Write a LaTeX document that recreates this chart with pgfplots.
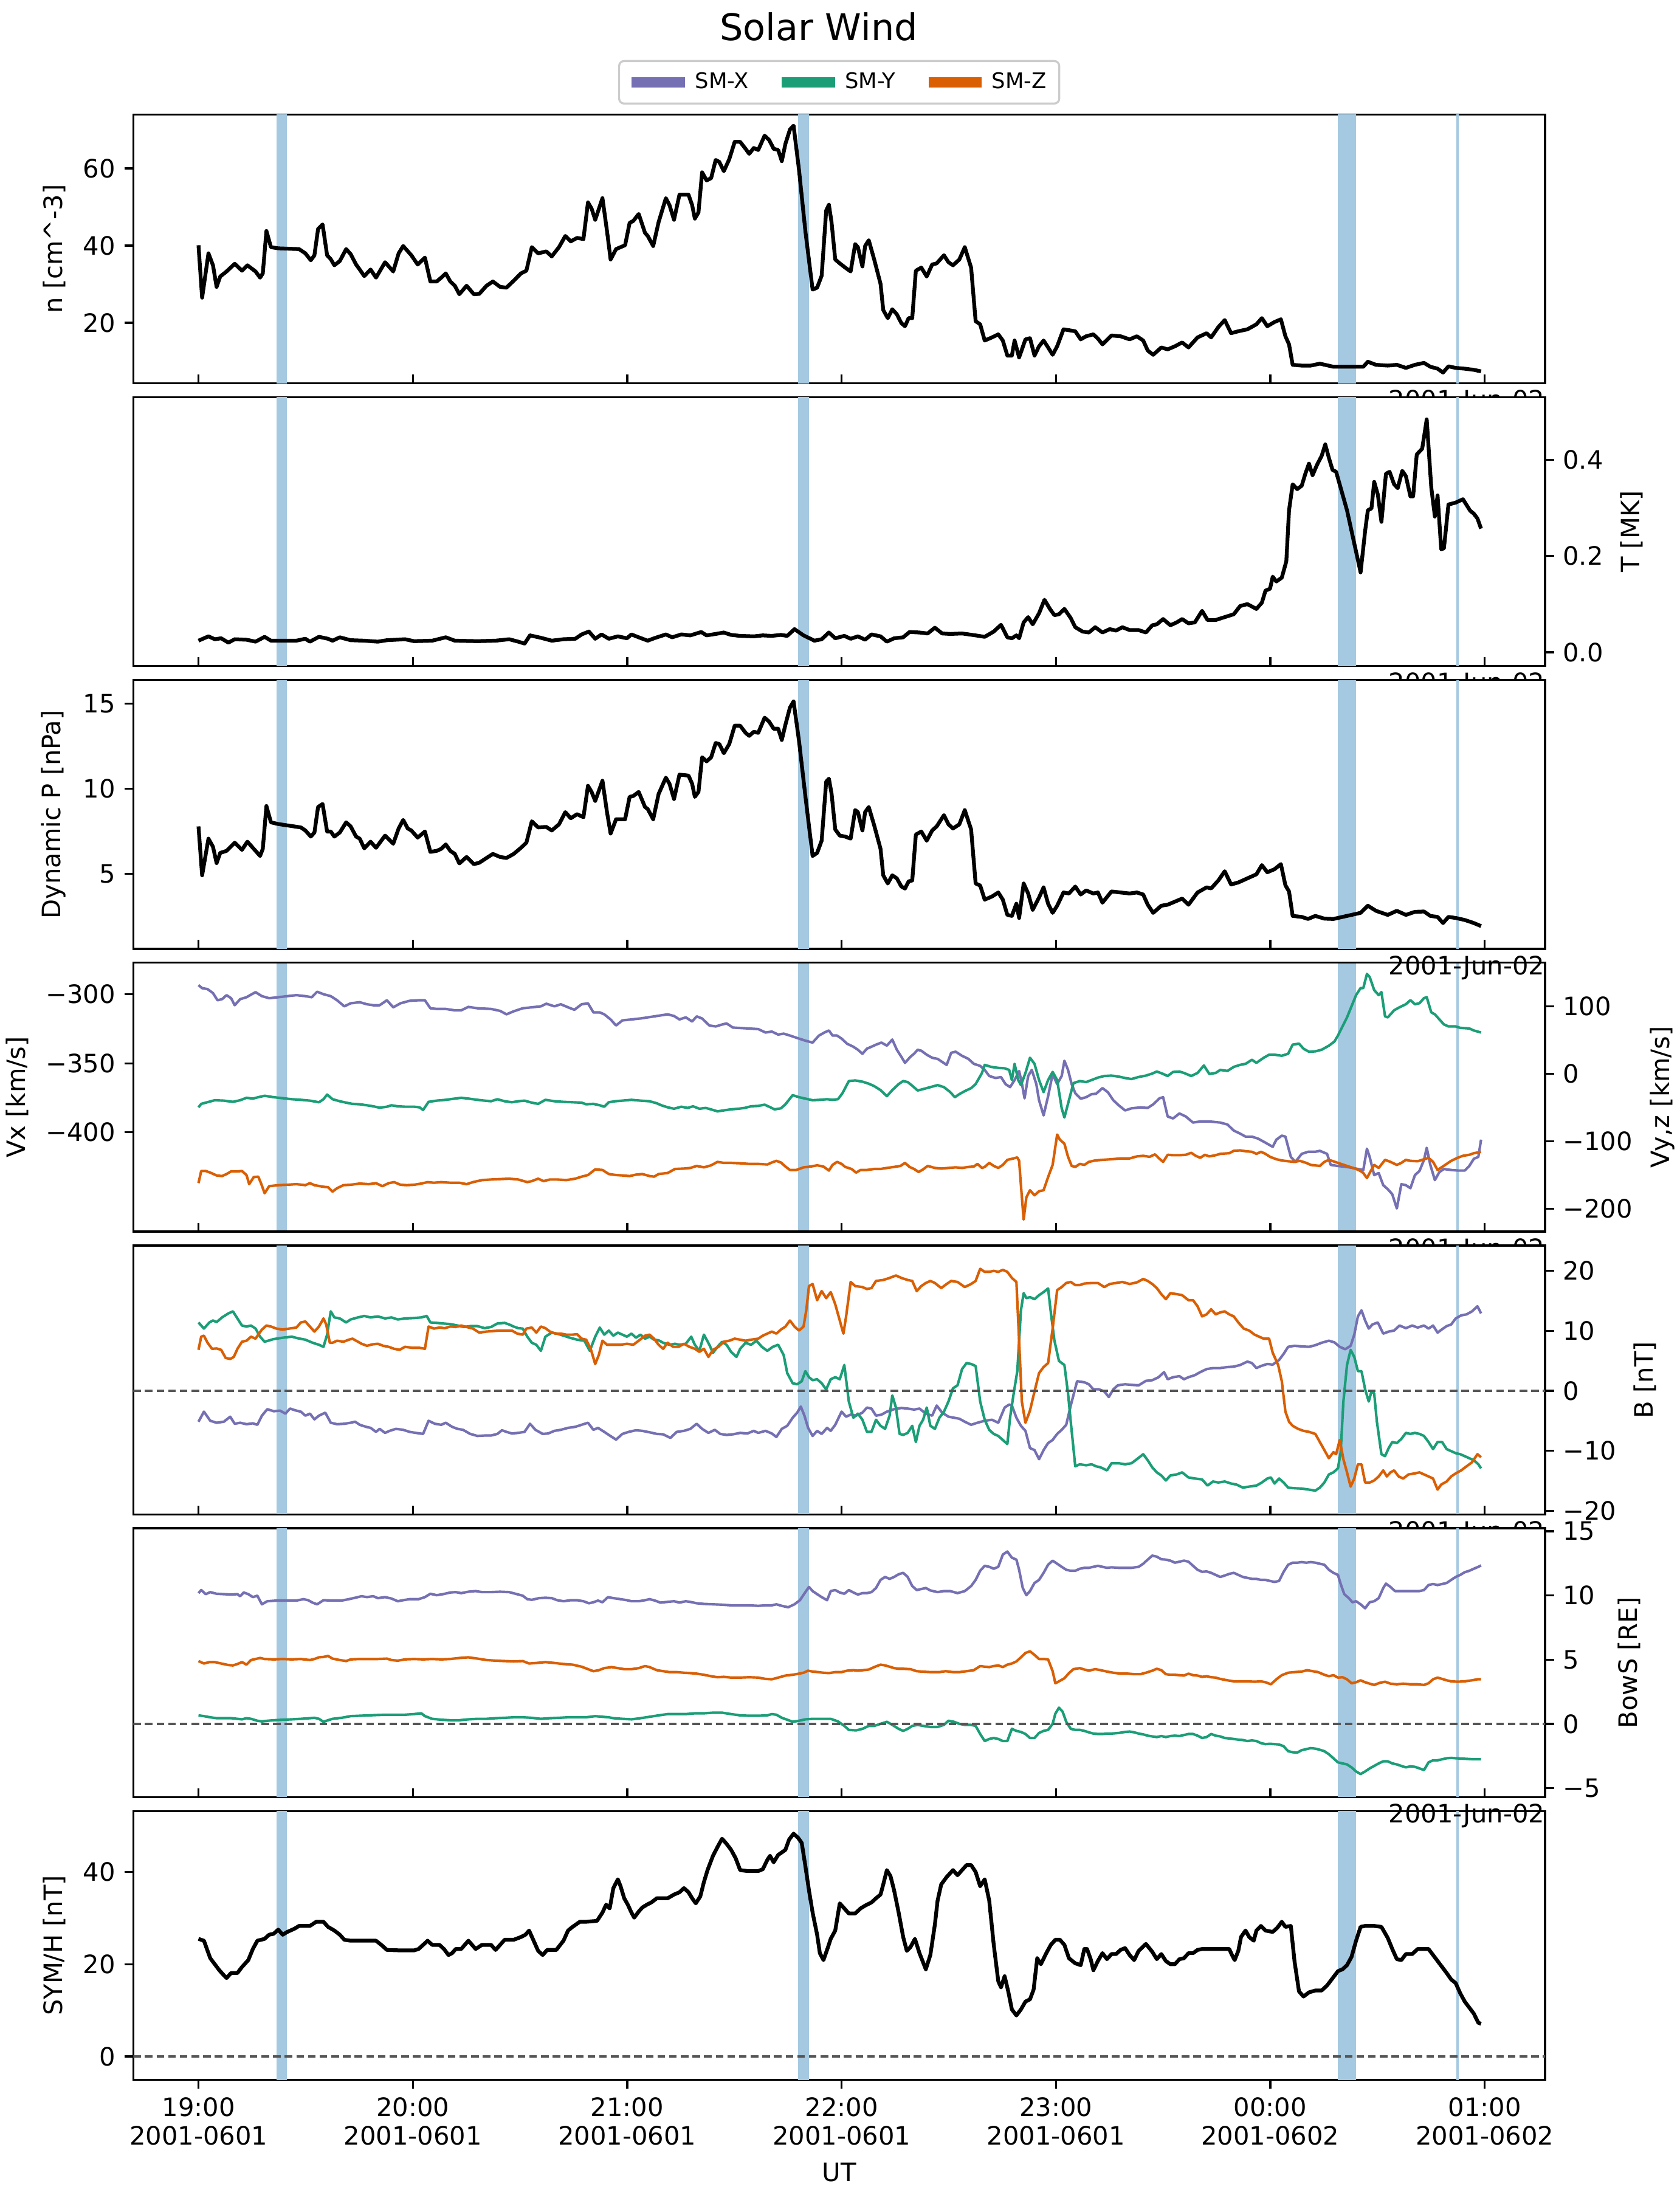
\documentclass[border=0pt]{standalone}
\usepackage{fontspec}
\setmainfont{DejaVu Sans}
\usepackage{pgfplots}
\pgfplotsset{compat=1.18}
\definecolor{smx}{RGB}{117,112,179}
\definecolor{smy}{RGB}{27,158,119}
\definecolor{smz}{RGB}{217,95,2}
\definecolor{bandc}{RGB}{165,201,225}
\definecolor{zeroc}{RGB}{85,85,85}
\definecolor{legc}{RGB}{204,204,204}
\newcommand{\bands}{%
  \fill[bandc] ({axis cs:21.8,0}|-{rel axis cs:0,0}) rectangle ({axis cs:24.8,0}|-{rel axis cs:0,1});
  \fill[bandc] ({axis cs:167.8,0}|-{rel axis cs:0,0}) rectangle ({axis cs:170.9,0}|-{rel axis cs:0,1});
  \fill[bandc] ({axis cs:318.9,0}|-{rel axis cs:0,0}) rectangle ({axis cs:324.0,0}|-{rel axis cs:0,1});
  \draw[bandc, line width=1.1pt] ({axis cs:352.4,0}|-{rel axis cs:0,0}) -- ({axis cs:352.4,0}|-{rel axis cs:0,1});
}
\newcommand{\zeroline}{%
  \draw[zeroc, line width=1pt, dash pattern=on 3pt off 1.6pt] ({rel axis cs:0,0}|-{axis cs:0,0}) -- ({rel axis cs:1,0}|-{axis cs:0,0});
}
\pgfplotsset{
  sw/.style={
    scale only axis, width=557.45pt, height=106.15pt, anchor=north west,
    xmin=-18.25, xmax=376.9,
    x filter/.expression={(x-72)*0.253521},
    xtick={0,60,120,180,240,300,360},
    xticklabels={},
    xtick pos=left, xtick align=inside,
    ytick align=outside,
    major tick length=3.5pt,
    tick style={black, line width=0.8pt},
    axis line style={line width=0.8pt},
    tick label style={font=\fontsize{10}{12}\selectfont},
    label style={font=\fontsize{10}{12}\selectfont},
    axis background/.style={fill=white},
    clip=true,
  },
  blk/.style={black, line width=1.5pt, line join=round},
  thn/.style={line width=1pt, line join=round},
}
\begin{document}
\begin{tikzpicture}
\useasboundingbox (0,0) rectangle (663.36pt,-865.44pt);
\node[font=\fontsize{14.5}{17}\selectfont, anchor=base] at (323.3pt,-16pt) {Solar Wind};

% ---------------- Panel 1: density
\begin{axis}[sw, at={(52.63pt,-45.19pt)},
  ymin=4.3, ymax=74, ytick={20,40,60}, yticklabels={20,40,60}, ytick pos=left,
  ylabel={n [cm\textasciicircum{}-3]},
  legend style={at={(0.5,1)}, anchor=south, yshift=3.9pt, legend columns=3,
    draw=legc, line width=0.8pt, rounded corners=2pt, font=\fontsize{8.5}{10.5}\selectfont,
    inner xsep=3pt, inner ysep=2.5pt,
    /tikz/every even column/.append style={column sep=9pt}},
  legend image code/.code={\draw[#1] (0pt,0pt) -- (21pt,0pt);},
]
\addlegendimage{smx, line width=4pt}\addlegendentry{SM-X}
\addlegendimage{smy, line width=4pt}\addlegendentry{SM-Y}
\addlegendimage{smz, line width=4pt}\addlegendentry{SM-Z}
\bands
\addplot[blk] coordinates {(72,40.1) (76,26.5) (83,38.0) (88,34.9) (92,29.3) (96,32.0) (103,33.3) (112,35.3) (120,33.5) (126,34.9) (135,33.3) (140,31.7) (143,32.8) (147,43.8) (152,39.6) (160,39.3) (183,39.1) (190,38.0) (196,36.2) (200,37.5) (204,44.3) (209,45.5) (214,37.5) (218,36.5) (222,34.9) (228,36.0) (235,39.1) (240,37.8) (246,35.1) (250,33.8) (255,32.1) (262,33.8) (268,31.7) (278,35.7) (287,33.3) (293,38.0) (298,39.9) (307,37.5) (314,35.1) (322,36.9) (328,30.7) (335,30.7) (340,31.7) (345,32.8) (350,30.7) (355,29.6) (360,27.4) (368,29.6) (376,27.4) (382,27.5) (390,29.6) (397,30.7) (405,29.3) (412,29.1) (420,30.9) (428,32.8) (434,33.5) (440,39.6) (447,38.0) (456,38.5) (462,37.2) (470,39.6) (477,42.5) (483,41.1) (490,42.0) (497,41.7) (502,51.2) (506,49.6) (510,46.7) (518,52.3) (523,43.8) (527,36.4) (533,39.1) (543,40.1) (548,45.9) (552,46.4) (558,48.2) (565,43.3) (568,42.5) (574,39.9) (580,46.1) (588,52.3) (592,50.5) (597,46.7) (603,53.2) (613,53.2) (617,50.5) (620,47.0) (624,48.6) (628,59.0) (633,56.9) (638,57.5) (643,62.2) (647,61.7) (652,59.3) (658,62.4) (664,66.9) (670,66.9) (676,65.1) (680,63.8) (685,65.3) (690,64.8) (697,68.5) (702,67.4) (707,65.1) (712,64.8) (716,61.9) (720,66.4) (725,70.1) (729,71.1) (735,59.6) (742,43.8) (750,28.6) (755,29.1) (760,32.2) (765,49.1) (768,50.6) (771,45.9) (775,36.4) (780,35.4) (786,34.3) (792,33.3) (797,40.4) (800,39.6) (805,34.6) (808,39.9) (812,41.4) (818,36.4) (825,30.1) (828,23.3) (833,21.2) (838,23.5) (843,22.2) (848,19.9) (852,19.1) (856,21.2) (860,21.2) (864,33.5) (870,34.3) (876,32.0) (882,35.1) (887,35.4) (895,37.5) (900,35.7) (905,34.9) (912,36.4) (918,39.6) (925,34.3) (930,20.4) (935,19.6) (940,15.4) (948,16.2) (955,17.0) (960,15.4) (965,11.5) (970,11.5) (973,15.4) (978,11.0) (985,15.7) (990,16.0) (995,11.5) (1000,13.9) (1005,15.4) (1010,13.6) (1015,11.7) (1020,13.9) (1027,18.3) (1040,17.8) (1046,15.7) (1052,16.5) (1060,17.0) (1065,15.9) (1070,14.4) (1080,16.7) (1090,16.5) (1100,15.7) (1108,16.5) (1115,15.4) (1120,12.8) (1126,11.7) (1135,13.6) (1142,13.1) (1150,13.9) (1158,14.9) (1165,13.6) (1175,16.2) (1185,17.3) (1190,16.2) (1198,18.9) (1205,20.7) (1212,17.3) (1220,17.8) (1230,18.3) (1240,19.6) (1246,21.2) (1252,19.1) (1260,20.2) (1267,20.9) (1272,16.5) (1276,14.4) (1280,9.1) (1290,8.9) (1300,8.9) (1310,9.4) (1325,8.6) (1358,8.6) (1363,9.9) (1372,9.1) (1385,8.9) (1395,9.1) (1405,8.3) (1415,9.1) (1425,9.6) (1432,8.6) (1440,8.1) (1446,7.1) (1452,8.7) (1460,8.3) (1470,8.1) (1480,7.8) (1488,7.4)};
\end{axis}
\node[anchor=base east, font=\fontsize{10}{12}\selectfont, inner sep=0pt] at (610.08pt,-161.44pt) {2001-Jun-02};

% ---------------- Panel 2: temperature
\begin{axis}[sw, at={(52.63pt,-156.83pt)},
  ymin=-0.0288, ymax=0.530, ytick={0,0.2,0.4}, yticklabels={0.0,0.2,0.4},
  ytick pos=right, yticklabel pos=right, ylabel near ticks, ylabel={T [MK]},
]
\bands
\addplot[blk] coordinates {(72,0.024) (83,0.033) (90,0.027) (97,0.029) (105,0.020) (112,0.027) (125,0.026) (135,0.022) (145,0.032) (152,0.024) (165,0.024) (180,0.024) (190,0.028) (195,0.022) (205,0.032) (215,0.028) (220,0.024) (228,0.031) (240,0.025) (255,0.024) (270,0.022) (280,0.025) (300,0.027) (310,0.023) (330,0.024) (345,0.031) (355,0.024) (380,0.023) (400,0.024) (415,0.027) (425,0.022) (432,0.018) (438,0.035) (450,0.030) (462,0.024) (475,0.027) (488,0.028) (495,0.037) (503,0.043) (510,0.028) (517,0.037) (525,0.028) (535,0.033) (545,0.029) (550,0.037) (558,0.031) (568,0.024) (575,0.029) (588,0.037) (595,0.031) (605,0.037) (615,0.035) (627,0.042) (633,0.035) (643,0.038) (652,0.041) (660,0.036) (670,0.034) (685,0.033) (695,0.035) (705,0.034) (715,0.036) (722,0.034) (730,0.048) (740,0.035) (752,0.024) (760,0.027) (768,0.041) (775,0.029) (785,0.034) (792,0.028) (800,0.033) (808,0.026) (815,0.037) (825,0.033) (832,0.022) (840,0.029) (850,0.031) (857,0.042) (868,0.041) (877,0.039) (885,0.051) (893,0.039) (902,0.038) (915,0.039) (930,0.035) (940,0.032) (950,0.043) (958,0.057) (965,0.031) (970,0.029) (975,0.035) (978,0.029) (983,0.062) (988,0.073) (993,0.058) (1000,0.081) (1006,0.109) (1012,0.090) (1017,0.077) (1022,0.079) (1028,0.090) (1035,0.071) (1040,0.052) (1048,0.043) (1055,0.041) (1062,0.052) (1070,0.041) (1078,0.048) (1085,0.045) (1092,0.052) (1100,0.046) (1110,0.046) (1118,0.041) (1125,0.056) (1130,0.058) (1137,0.069) (1145,0.056) (1152,0.062) (1158,0.069) (1165,0.060) (1172,0.062) (1180,0.086) (1186,0.067) (1195,0.067) (1205,0.073) (1215,0.079) (1222,0.096) (1230,0.100) (1240,0.090) (1246,0.103) (1250,0.128) (1255,0.132) (1258,0.157) (1262,0.147) (1268,0.155) (1273,0.189) (1276,0.295) (1280,0.349) (1285,0.339) (1290,0.346) (1294,0.371) (1298,0.392) (1302,0.368) (1307,0.390) (1312,0.408) (1316,0.432) (1320,0.404) (1324,0.379) (1328,0.375) (1340,0.295) (1355,0.166) (1360,0.252) (1363,0.295) (1367,0.299) (1370,0.354) (1374,0.328) (1378,0.271) (1383,0.371) (1387,0.375) (1392,0.349) (1396,0.341) (1401,0.377) (1405,0.366) (1410,0.324) (1413,0.324) (1417,0.411) (1423,0.423) (1428,0.484) (1433,0.343) (1437,0.282) (1440,0.326) (1444,0.214) (1447,0.216) (1452,0.307) (1460,0.311) (1468,0.318) (1476,0.294) (1480,0.288) (1484,0.278) (1488,0.257)};
\end{axis}
\node[anchor=base east, font=\fontsize{10}{12}\selectfont, inner sep=0pt] at (610.08pt,-273.08pt) {2001-Jun-02};

% ---------------- Panel 3: dynamic pressure
\begin{axis}[sw, at={(52.63pt,-268.47pt)},
  ymin=0.57, ymax=16.4, ytick={5,10,15}, yticklabels={5,10,15}, ytick pos=left,
  ylabel={Dynamic P [nPa]},
]
\bands
\addplot[blk] coordinates {(72,7.78) (76,4.90) (83,7.06) (88,6.58) (92,5.62) (96,6.22) (103,6.34) (112,6.82) (120,6.40) (126,6.88) (135,6.34) (140,6.04) (143,6.46) (147,8.98) (152,8.02) (160,7.92) (175,7.80) (185,7.72) (190,7.54) (196,7.18) (200,7.42) (204,8.92) (209,9.10) (214,7.48) (218,7.48) (222,7.18) (228,7.42) (235,8.02) (240,7.78) (246,7.18) (250,7.06) (255,6.49) (262,6.88) (268,6.52) (278,7.24) (287,6.76) (293,7.66) (298,8.16) (303,7.66) (307,7.54) (314,7.12) (322,7.48) (328,6.28) (335,6.34) (340,6.46) (345,6.72) (350,6.34) (355,6.16) (360,5.60) (368,5.98) (376,5.56) (382,5.64) (390,5.92) (397,6.16) (405,5.98) (412,5.92) (420,6.16) (428,6.52) (434,6.82) (440,8.08) (447,7.72) (456,7.75) (462,7.54) (470,7.90) (477,8.62) (483,8.26) (490,8.50) (497,8.32) (502,10.17) (506,9.81) (510,9.28) (518,10.47) (523,8.62) (527,7.36) (533,8.20) (543,8.20) (548,9.52) (552,9.57) (558,9.81) (565,8.92) (568,8.80) (574,8.20) (580,9.69) (588,10.65) (592,10.29) (597,9.39) (603,10.83) (613,10.77) (617,10.29) (620,9.52) (624,9.81) (628,11.85) (633,11.61) (638,11.85) (643,12.69) (647,12.63) (652,12.09) (658,12.63) (664,13.71) (670,13.71) (676,13.29) (680,13.11) (685,13.35) (690,13.29) (697,14.18) (702,13.95) (707,13.53) (712,13.53) (716,12.87) (720,13.77) (725,14.78) (729,15.14) (735,12.81) (742,9.57) (750,6.04) (755,6.22) (760,6.94) (765,10.41) (768,10.59) (771,9.69) (775,7.60) (780,7.24) (786,7.18) (792,7.06) (797,8.74) (800,8.62) (805,7.54) (808,8.62) (812,8.92) (818,7.84) (825,6.46) (828,4.90) (833,4.42) (838,4.90) (843,4.72) (848,4.24) (852,4.12) (856,4.54) (860,4.60) (864,7.30) (870,7.48) (876,6.94) (882,7.54) (887,7.78) (895,8.44) (900,7.90) (905,7.66) (912,7.90) (918,8.74) (925,7.60) (930,4.42) (935,4.30) (940,3.47) (948,3.65) (955,3.89) (960,3.47) (965,2.57) (970,2.51) (975,3.23) (978,2.39) (983,4.42) (988,3.83) (993,2.87) (1000,3.59) (1005,4.19) (1010,3.23) (1015,2.69) (1020,3.11) (1027,3.89) (1033,3.83) (1040,4.24) (1046,3.77) (1052,4.01) (1060,3.83) (1065,3.89) (1070,3.29) (1080,3.95) (1090,3.89) (1100,3.83) (1108,3.89) (1115,3.77) (1120,3.17) (1126,2.69) (1135,3.11) (1142,3.17) (1150,3.35) (1158,3.53) (1165,3.17) (1175,3.89) (1185,4.19) (1190,4.13) (1198,4.60) (1205,5.14) (1212,4.36) (1220,4.48) (1230,4.72) (1240,4.96) (1246,5.50) (1252,5.08) (1260,5.26) (1267,5.56) (1272,4.31) (1276,3.95) (1280,2.51) (1290,2.45) (1297,2.33) (1305,2.51) (1315,2.35) (1325,2.33) (1340,2.51) (1355,2.69) (1363,3.11) (1372,2.81) (1385,2.57) (1395,2.81) (1405,2.57) (1415,2.75) (1425,2.77) (1432,2.51) (1440,2.45) (1446,2.09) (1452,2.45) (1460,2.39) (1470,2.27) (1480,2.09) (1488,1.91)};
\end{axis}

% ---------------- Panel 4: velocity (Vx left)
\begin{axis}[sw, at={(52.63pt,-380.11pt)},
  ymin=-472.1, ymax=-277.1, ytick={-400,-350,-300}, yticklabels={−400,−350,−300}, ytick pos=left,
  ylabel={Vx [km/s]},
]
\bands
\addplot[thn, smx] coordinates {(72,-293.3) (76,-295.5) (82,-296.2) (88,-299.1) (93,-304.3) (98,-303.5) (103,-300.6) (108,-302.8) (112,-307.9) (118,-303.5) (125,-302.1) (135,-298.4) (142,-301.3) (150,-302.8) (160,-302.1) (170,-301.3) (180,-300.6) (190,-301.3) (197,-302.1) (203,-298.1) (210,-299.9) (218,-301.3) (225,-304.3) (233,-308.7) (240,-306.5) (250,-305.7) (258,-307.2) (265,-307.9) (272,-307.9) (280,-304.3) (287,-309.4) (295,-306.5) (305,-304.7) (315,-304.3) (322,-304.3) (328,-310.1) (335,-310.6) (345,-310.6) (355,-311.6) (362,-311.6) (370,-309.1) (380,-310.1) (395,-310.6) (405,-312.0) (412,-314.5) (420,-312.3) (430,-310.1) (440,-309.4) (450,-308.7) (456,-306.8) (465,-308.7) (472,-307.2) (480,-309.4) (487,-311.2) (495,-307.2) (502,-306.5) (508,-313.1) (515,-313.1) (520,-314.5) (527,-318.2) (533,-322.6) (540,-318.9) (550,-318.2) (560,-317.5) (568,-316.7) (575,-316.0) (582,-315.3) (590,-314.5) (597,-315.7) (603,-318.2) (610,-316.7) (617,-319.7) (622,-316.0) (628,-317.5) (636,-322.6) (643,-323.3) (650,-321.9) (655,-321.1) (662,-324.1) (670,-324.4) (680,-324.8) (690,-325.2) (698,-327.7) (705,-327.0) (712,-329.2) (718,-328.5) (725,-329.9) (735,-332.1) (742,-333.6) (750,-335.0) (757,-329.9) (763,-327.7) (768,-326.2) (772,-329.9) (777,-329.9) (782,-332.1) (788,-335.8) (795,-338.0) (800,-340.2) (805,-343.1) (810,-339.4) (815,-338.0) (820,-336.5) (826,-335.0) (832,-337.2) (838,-332.8) (843,-340.2) (848,-345.3) (852,-349.7) (858,-345.3) (862,-343.1) (866,-340.2) (870,-340.9) (876,-343.8) (882,-346.0) (888,-346.8) (893,-349.0) (898,-351.2) (903,-342.4) (908,-341.6) (915,-344.6) (922,-346.8) (928,-350.4) (935,-351.9) (940,-354.8) (945,-359.2) (952,-360.7) (958,-360.0) (963,-365.1) (968,-367.3) (973,-362.2) (978,-355.6) (981,-364.4) (984,-375.4) (988,-359.2) (992,-354.8) (997,-365.1) (1000,-376.8) (1005,-387.8) (1010,-373.9) (1015,-357.8) (1020,-365.1) (1025,-359.2) (1028,-348.2) (1032,-354.8) (1036,-365.1) (1040,-371.7) (1046,-375.7) (1052,-374.6) (1058,-372.4) (1063,-372.1) (1070,-368.0) (1076,-371.0) (1082,-376.8) (1088,-380.5) (1095,-384.2) (1102,-382.7) (1112,-382.0) (1120,-382.4) (1126,-379.8) (1133,-375.4) (1137,-374.6) (1142,-388.6) (1148,-390.0) (1155,-386.4) (1162,-388.6) (1170,-393.0) (1178,-392.2) (1188,-392.2) (1200,-393.0) (1208,-394.4) (1215,-398.8) (1222,-401.0) (1228,-403.2) (1235,-403.2) (1242,-404.7) (1250,-407.6) (1258,-410.6) (1262,-405.4) (1268,-402.5) (1272,-403.2) (1275,-410.6) (1278,-417.9) (1283,-421.5) (1290,-415.7) (1297,-414.2) (1305,-414.2) (1310,-413.5) (1318,-415.7) (1322,-423.7) (1330,-424.5) (1340,-425.2) (1350,-426.4) (1358,-427.4) (1362,-412.0) (1365,-417.9) (1370,-431.1) (1375,-429.6) (1380,-438.4) (1385,-441.3) (1390,-445.0) (1395,-455.3) (1400,-437.7) (1405,-438.4) (1410,-440.6) (1415,-431.1) (1420,-428.1) (1425,-420.1) (1428,-411.3) (1432,-423.7) (1437,-434.7) (1442,-428.9) (1447,-426.7) (1455,-427.4) (1463,-427.8) (1470,-427.8) (1475,-424.5) (1480,-419.3) (1485,-417.9) (1488,-405.4)};
\end{axis}
% ---------------- Panel 4: velocity (Vy, Vz right)
\begin{axis}[sw, at={(52.63pt,-380.11pt)}, axis background/.style={},
  ymin=-233.8, ymax=164.4, ytick={-200,-100,0,100}, yticklabels={−200,−100,0,100},
  ytick pos=right, yticklabel pos=right, ylabel near ticks, ylabel={Vy,z [km/s]},
]
\addplot[thn, smy] coordinates {(72,-49.7) (75,-44.6) (80,-42.8) (90,-39.2) (100,-39.8) (110,-41.6) (118,-39.2) (125,-35.6) (132,-36.8) (138,-34.7) (145,-32.6) (155,-34.7) (165,-36.2) (175,-37.7) (185,-38.6) (195,-39.8) (205,-42.2) (210,-37.7) (214,-30.8) (220,-37.7) (228,-40.7) (235,-42.8) (242,-44.6) (250,-45.2) (258,-46.7) (265,-48.2) (272,-50.3) (280,-48.8) (285,-46.7) (292,-48.2) (300,-48.8) (310,-48.8) (316,-49.7) (320,-53.6) (326,-41.6) (335,-39.8) (345,-38.6) (355,-36.8) (362,-35.6) (370,-36.8) (380,-38.6) (388,-39.8) (395,-40.7) (402,-37.7) (410,-40.7) (418,-42.2) (425,-40.7) (432,-39.8) (440,-42.8) (447,-44.6) (455,-38.6) (465,-40.7) (475,-41.6) (485,-42.2) (495,-42.8) (500,-45.2) (508,-44.6) (515,-46.7) (520,-48.8) (525,-42.2) (532,-40.7) (540,-39.8) (550,-38.6) (560,-39.8) (570,-40.7) (578,-43.7) (583,-46.7) (590,-49.7) (597,-51.8) (605,-48.8) (612,-50.6) (618,-48.2) (625,-51.8) (632,-50.6) (640,-53.6) (645,-55.7) (652,-54.2) (660,-52.7) (668,-51.8) (675,-50.6) (682,-48.2) (690,-47.6) (697,-45.8) (702,-48.8) (708,-52.7) (715,-51.2) (720,-45.2) (728,-31.7) (735,-34.7) (742,-36.8) (750,-39.2) (758,-38.6) (766,-37.7) (772,-38.6) (778,-37.7) (783,-28.7) (790,-10.8) (797,-9.9) (805,-11.7) (812,-14.7) (818,-18.3) (825,-24.2) (832,-33.2) (838,-24.2) (845,-15.3) (850,-10.8) (855,-12.3) (860,-17.7) (866,-24.8) (872,-22.7) (880,-19.8) (888,-16.8) (895,-19.8) (902,-27.2) (907,-34.7) (912,-30.2) (918,-25.7) (925,-21.3) (930,-15.3) (937,1.2) (940,13.2) (947,10.2) (955,8.7) (962,8.1) (967,5.7) (970,-9.3) (973,14.7) (977,-9.3) (980,-16.8) (985,1.2) (990,23.7) (995,14.7) (1000,-9.3) (1005,-27.2) (1010,-9.3) (1015,2.7) (1020,-9.3) (1025,-51.2) (1028,-64.7) (1033,-39.2) (1038,-13.8) (1045,-10.8) (1052,-12.3) (1058,-9.3) (1065,-5.7) (1072,-3.3) (1080,-2.7) (1088,-4.2) (1095,-6.3) (1102,-7.8) (1110,-4.8) (1118,-2.7) (1125,0.3) (1130,3.3) (1136,0.3) (1142,-3.3) (1148,2.7) (1155,3.3) (1160,1.2) (1168,-3.3) (1175,1.2) (1182,12.3) (1188,-0.3) (1195,1.2) (1200,5.7) (1208,4.2) (1215,10.2) (1222,13.2) (1228,14.7) (1235,20.7) (1240,16.2) (1248,23.7) (1254,28.2) (1260,28.2) (1268,26.7) (1275,29.6) (1280,43.1) (1287,44.6) (1292,37.1) (1298,32.6) (1305,33.2) (1312,35.6) (1320,41.6) (1326,47.6) (1330,56.6) (1340,83.5) (1350,116.5) (1355,126.9) (1358,126.9) (1362,147.9) (1365,143.4) (1370,124.0) (1375,116.5) (1378,121.0) (1382,85.0) (1385,83.5) (1392,94.0) (1398,98.5) (1405,103.0) (1410,109.0) (1415,103.0) (1420,104.5) (1425,112.0) (1428,113.5) (1433,91.0) (1437,88.0) (1442,80.5) (1447,73.1) (1452,70.1) (1460,70.1) (1465,68.0) (1475,67.1) (1480,64.1) (1488,61.1)};
\addplot[thn, smz] coordinates {(72,-162.0) (75,-144.0) (80,-144.0) (85,-146.4) (92,-150.6) (98,-151.5) (103,-148.5) (108,-144.6) (115,-144.6) (120,-144.0) (125,-150.0) (128,-163.5) (133,-153.0) (138,-152.4) (141,-162.0) (145,-176.9) (150,-166.5) (160,-165.0) (170,-164.4) (180,-163.5) (190,-165.0) (195,-162.0) (200,-165.0) (210,-167.4) (215,-168.0) (220,-174.5) (225,-169.5) (232,-165.0) (240,-164.4) (250,-162.6) (260,-163.5) (268,-162.0) (275,-166.5) (282,-162.0) (288,-160.5) (295,-164.4) (302,-165.0) (310,-164.4) (318,-162.6) (325,-160.5) (332,-161.4) (340,-160.5) (350,-161.4) (360,-161.4) (368,-163.5) (375,-160.5) (385,-157.5) (395,-156.6) (405,-156.0) (415,-155.4) (425,-156.6) (435,-160.5) (440,-159.0) (447,-155.4) (453,-159.0) (460,-156.6) (468,-156.6) (478,-157.5) (488,-155.4) (495,-152.4) (502,-150.0) (510,-141.6) (518,-142.5) (525,-148.5) (533,-150.0) (540,-150.6) (548,-151.5) (555,-149.4) (562,-148.5) (570,-151.5) (575,-152.4) (580,-148.5) (590,-147.0) (598,-141.0) (608,-140.4) (615,-139.5) (622,-136.5) (630,-138.6) (638,-135.6) (645,-130.5) (652,-132.0) (660,-132.0) (670,-132.6) (680,-133.5) (690,-133.5) (700,-134.4) (705,-131.4) (710,-129.0) (715,-131.4) (720,-137.4) (725,-142.5) (732,-142.5) (740,-138.6) (748,-137.4) (755,-135.6) (762,-137.4) (768,-143.4) (772,-135.0) (777,-130.5) (782,-133.5) (786,-138.0) (793,-141.0) (798,-146.4) (803,-142.5) (810,-142.5) (818,-141.0) (825,-141.0) (832,-139.5) (840,-138.0) (847,-136.5) (852,-132.0) (857,-138.0) (862,-141.0) (867,-145.5) (872,-141.6) (877,-136.5) (885,-139.5) (892,-140.4) (900,-139.5) (908,-138.6) (915,-139.5) (922,-138.0) (928,-137.4) (932,-133.5) (937,-139.5) (940,-138.0) (945,-132.0) (950,-136.5) (955,-139.5) (960,-135.0) (965,-127.5) (970,-126.0) (976,-123.9) (978,-129.0) (980,-165.0) (983,-215.9) (986,-183.0) (990,-172.5) (995,-180.0) (1000,-174.0) (1005,-172.5) (1010,-153.0) (1015,-135.0) (1020,-90.1) (1023,-97.6) (1028,-103.6) (1032,-123.0) (1036,-136.5) (1040,-138.0) (1045,-133.5) (1050,-135.0) (1055,-130.5) (1062,-128.4) (1070,-127.5) (1080,-126.6) (1090,-125.4) (1100,-125.4) (1108,-122.4) (1115,-121.5) (1122,-123.0) (1128,-119.4) (1133,-126.0) (1137,-130.5) (1142,-120.0) (1148,-120.6) (1155,-120.6) (1162,-120.0) (1168,-117.1) (1173,-121.5) (1178,-124.5) (1183,-120.0) (1188,-122.4) (1195,-120.6) (1200,-118.6) (1210,-117.7) (1215,-114.1) (1222,-113.5) (1228,-114.7) (1235,-115.6) (1240,-118.6) (1245,-115.6) (1250,-118.6) (1255,-123.0) (1262,-126.6) (1268,-128.4) (1275,-129.6) (1282,-130.5) (1288,-129.0) (1295,-132.0) (1300,-135.0) (1310,-136.5) (1315,-130.5) (1320,-127.5) (1330,-132.0) (1340,-136.5) (1350,-141.0) (1355,-144.0) (1358,-147.0) (1362,-154.5) (1365,-147.0) (1370,-135.0) (1375,-139.5) (1382,-127.5) (1388,-130.5) (1395,-135.0) (1400,-132.0) (1405,-127.5) (1410,-129.0) (1418,-129.6) (1425,-126.6) (1430,-124.5) (1435,-130.5) (1440,-142.5) (1445,-138.0) (1450,-133.5) (1455,-129.0) (1462,-124.5) (1468,-121.5) (1475,-120.0) (1480,-117.7) (1488,-115.6)};
\end{axis}
\node[anchor=base east, font=\fontsize{10}{12}\selectfont, inner sep=0pt] at (610.08pt,-384.72pt) {2001-Jun-02};
\node[anchor=base east, font=\fontsize{10}{12}\selectfont, inner sep=0pt] at (610.08pt,-496.36pt) {2001-Jun-02};

% ---------------- Panel 5: magnetic field
\begin{axis}[sw, at={(52.63pt,-491.75pt)},
  ymin=-20.6, ymax=24.2, ytick={-20,-10,0,10,20}, yticklabels={−20,−10,0,10,20},
  ytick pos=right, yticklabel pos=right, ylabel near ticks, ylabel={B [nT]},
]
\bands
\addplot[thn, smx] coordinates {(72,-5.16) (78,-3.48) (85,-5.00) (92,-5.33) (100,-5.16) (107,-4.32) (112,-5.50) (118,-5.33) (125,-5.57) (132,-5.43) (137,-5.67) (142,-4.15) (148,-3.07) (155,-3.41) (162,-3.31) (168,-3.81) (173,-2.97) (180,-3.31) (185,-3.48) (190,-4.15) (195,-3.81) (200,-4.76) (205,-4.15) (212,-3.65) (218,-5.33) (225,-5.57) (233,-5.50) (240,-5.33) (245,-5.16) (250,-5.67) (257,-6.01) (262,-6.18) (268,-6.85) (272,-6.35) (278,-7.02) (283,-6.68) (290,-6.35) (298,-6.51) (305,-6.85) (312,-7.02) (320,-7.19) (326,-5.00) (333,-5.50) (340,-5.67) (345,-5.33) (352,-6.01) (358,-6.35) (364,-6.51) (372,-7.19) (380,-7.53) (388,-7.46) (395,-7.46) (402,-7.19) (407,-6.58) (412,-6.85) (418,-7.12) (425,-7.02) (432,-6.85) (438,-5.50) (444,-6.51) (452,-7.19) (458,-7.12) (465,-6.68) (472,-6.51) (480,-6.18) (488,-6.01) (495,-5.67) (502,-5.33) (508,-6.51) (513,-6.18) (520,-6.85) (525,-7.36) (533,-8.14) (540,-7.19) (547,-6.85) (555,-6.58) (562,-6.68) (570,-6.92) (578,-7.19) (585,-7.26) (593,-7.86) (600,-6.85) (608,-6.68) (615,-6.35) (622,-5.50) (628,-6.35) (635,-7.02) (642,-6.51) (648,-7.19) (655,-7.36) (662,-7.26) (670,-7.02) (678,-7.12) (685,-6.68) (690,-7.02) (698,-6.68) (705,-7.12) (710,-7.70) (716,-6.35) (722,-5.84) (728,-4.49) (733,-3.65) (737,-2.63) (741,-4.15) (745,-6.18) (750,-7.53) (755,-6.68) (760,-7.19) (766,-6.18) (770,-6.68) (775,-5.67) (782,-3.48) (787,-4.32) (792,-3.98) (798,-4.15) (805,-3.65) (810,-2.80) (815,-2.97) (820,-4.15) (826,-3.98) (832,-3.48) (840,-3.07) (848,-2.87) (855,-2.97) (862,-3.14) (868,-2.97) (875,-3.81) (882,-4.15) (887,-2.46) (893,-3.65) (900,-4.32) (906,-4.49) (912,-4.66) (918,-5.16) (925,-5.67) (932,-5.33) (940,-5.00) (948,-4.83) (955,-5.33) (962,-2.80) (967,-2.30) (970,-2.46) (975,-4.49) (980,-5.84) (985,-6.68) (990,-9.55) (995,-9.89) (1000,-11.41) (1005,-9.89) (1010,-8.71) (1015,-8.20) (1020,-7.19) (1025,-6.51) (1030,-5.67) (1035,-2.46) (1042,1.59) (1050,1.42) (1055,1.08) (1060,0.24) (1066,0.24) (1072,-0.10) (1077,-1.05) (1082,0.24) (1087,0.91) (1095,1.08) (1102,0.98) (1110,0.91) (1118,1.65) (1125,1.76) (1132,2.26) (1138,3.11) (1142,1.92) (1148,2.26) (1155,2.43) (1160,1.92) (1165,2.26) (1172,2.60) (1178,3.11) (1185,3.61) (1192,3.78) (1200,3.78) (1208,3.95) (1215,4.02) (1222,4.29) (1230,4.86) (1235,4.62) (1240,3.78) (1245,4.12) (1252,4.46) (1258,4.35) (1265,5.13) (1270,6.14) (1275,7.32) (1282,7.49) (1290,7.39) (1298,7.32) (1305,7.59) (1312,8.00) (1320,8.34) (1326,8.07) (1332,7.32) (1338,6.92) (1344,7.49) (1348,9.35) (1352,12.39) (1356,13.40) (1360,11.71) (1364,10.36) (1368,11.04) (1374,11.38) (1380,9.52) (1386,9.86) (1392,10.03) (1398,10.87) (1405,10.43) (1412,10.87) (1418,10.53) (1425,10.87) (1430,10.36) (1435,10.87) (1440,9.69) (1446,10.36) (1450,10.77) (1455,11.04) (1460,12.05) (1466,12.56) (1472,12.73) (1478,13.23) (1484,14.08) (1488,12.89)};
\addplot[thn, smy] coordinates {(72,11.38) (78,10.36) (84,11.38) (88,11.71) (92,11.44) (98,12.22) (105,12.89) (110,13.23) (115,12.05) (120,10.87) (125,10.70) (130,10.87) (135,10.36) (140,9.01) (145,8.17) (155,8.61) (165,8.84) (175,9.01) (182,8.74) (190,8.51) (198,8.00) (205,7.66) (210,7.32) (214,9.35) (218,13.23) (222,12.22) (228,12.05) (235,11.38) (240,11.88) (248,12.22) (255,12.46) (262,12.22) (270,12.39) (278,12.05) (285,12.22) (292,11.88) (300,12.05) (310,12.12) (318,12.22) (324,12.46) (328,11.38) (335,11.31) (342,11.21) (350,11.11) (358,10.87) (365,10.63) (372,10.77) (380,10.77) (388,10.43) (395,10.63) (402,11.21) (410,11.31) (415,11.04) (420,10.70) (425,10.43) (430,10.36) (435,9.01) (440,8.00) (445,7.66) (450,6.65) (455,9.01) (462,9.69) (468,9.52) (475,9.18) (482,8.84) (490,8.51) (498,8.34) (504,6.65) (510,9.01) (515,10.53) (520,9.35) (525,10.03) (530,9.18) (535,9.69) (540,9.35) (545,9.01) (550,9.52) (555,8.84) (560,9.35) (565,8.68) (570,9.01) (575,8.51) (580,8.41) (585,8.00) (592,7.66) (598,7.83) (603,7.66) (610,7.83) (616,9.01) (620,7.66) (625,6.65) (630,9.35) (636,7.66) (640,6.31) (645,7.32) (650,8.17) (655,7.66) (660,6.48) (666,5.64) (670,6.99) (676,8.00) (682,7.66) (688,8.34) (694,7.32) (700,6.65) (706,7.32) (712,7.66) (718,5.97) (722,2.94) (728,1.25) (733,1.08) (738,1.59) (742,3.27) (746,2.26) (750,1.76) (755,1.92) (760,1.25) (765,0.24) (770,1.92) (775,2.26) (780,1.92) (785,4.29) (790,-1.79) (795,-4.49) (800,-3.81) (805,-4.83) (810,-6.85) (815,-6.85) (820,-4.83) (825,-5.84) (830,-6.35) (835,-4.15) (838,-0.78) (842,-2.80) (846,-7.19) (850,-7.36) (855,-7.02) (860,-5.84) (864,-8.54) (868,-5.84) (872,-4.83) (876,-2.80) (880,-5.84) (885,-6.35) (890,-4.49) (895,-3.48) (900,-1.79) (905,0.41) (910,0.91) (915,3.61) (920,4.62) (925,4.46) (930,4.12) (935,-1.79) (940,-4.83) (945,-6.51) (950,-7.19) (955,-7.53) (960,-8.20) (965,-8.88) (968,-4.49) (972,-0.44) (976,3.27) (980,13.40) (983,16.27) (986,15.43) (990,15.60) (995,15.26) (1000,15.93) (1005,16.44) (1010,17.05) (1013,13.06) (1017,8.34) (1022,4.96) (1028,4.29) (1032,-0.44) (1035,-5.16) (1040,-12.59) (1045,-12.25) (1052,-12.42) (1058,-12.25) (1063,-12.59) (1068,-12.76) (1075,-13.27) (1080,-12.08) (1088,-12.08) (1095,-12.25) (1102,-12.08) (1108,-11.41) (1115,-10.57) (1120,-11.58) (1125,-12.76) (1130,-13.60) (1135,-14.11) (1140,-14.95) (1145,-14.11) (1152,-13.94) (1158,-13.60) (1165,-14.45) (1172,-14.62) (1180,-14.78) (1186,-15.80) (1192,-15.12) (1198,-15.29) (1205,-15.12) (1212,-15.46) (1218,-15.63) (1225,-16.14) (1232,-15.97) (1240,-15.80) (1246,-15.29) (1252,-14.62) (1256,-14.45) (1260,-15.46) (1265,-14.62) (1270,-15.29) (1275,-16.14) (1282,-16.24) (1290,-16.30) (1298,-16.47) (1305,-16.64) (1310,-16.14) (1315,-15.29) (1320,-13.94) (1325,-13.60) (1330,-12.93) (1333,-10.23) (1336,-1.79) (1340,4.29) (1344,6.82) (1348,5.64) (1352,3.27) (1356,3.27) (1360,0.24) (1364,-1.79) (1367,-0.10) (1370,-0.44) (1373,-5.16) (1378,-10.57) (1382,-10.90) (1386,-9.55) (1390,-8.54) (1395,-8.71) (1400,-8.03) (1405,-7.02) (1410,-7.19) (1415,-7.02) (1420,-7.19) (1425,-7.53) (1430,-8.54) (1435,-9.72) (1440,-8.54) (1445,-8.54) (1450,-9.72) (1455,-10.06) (1460,-10.40) (1465,-10.57) (1470,-10.90) (1475,-11.24) (1480,-11.58) (1485,-12.25) (1488,-12.93)};
\addplot[thn, smz] coordinates {(72,6.82) (75,9.01) (78,9.18) (82,8.00) (87,6.99) (92,7.05) (97,6.82) (102,5.47) (107,5.30) (111,5.64) (115,6.99) (120,8.17) (125,8.34) (130,9.01) (135,8.68) (138,9.35) (142,10.19) (147,10.87) (152,10.70) (158,10.36) (165,10.19) (172,10.36) (180,10.53) (185,11.38) (190,11.54) (195,10.70) (200,9.86) (205,10.70) (210,12.05) (213,11.04) (217,8.00) (220,8.00) (225,8.34) (232,8.17) (238,8.51) (242,8.68) (246,8.34) (252,7.83) (258,7.49) (264,7.73) (270,7.83) (276,7.49) (282,7.32) (288,6.99) (294,6.82) (300,7.32) (308,7.16) (316,7.16) (322,6.99) (326,10.70) (332,10.36) (338,10.53) (344,10.43) (350,10.70) (356,10.63) (362,10.87) (368,10.63) (375,10.36) (382,9.69) (390,9.86) (398,9.96) (405,10.03) (412,10.03) (418,10.03) (424,9.52) (430,9.35) (434,10.36) (440,10.53) (445,9.69) (450,10.70) (455,10.43) (460,9.86) (466,9.52) (472,9.52) (478,9.35) (485,9.35) (490,9.42) (495,8.68) (500,8.51) (505,6.99) (510,4.46) (514,5.97) (518,8.34) (523,7.66) (530,7.66) (538,7.66) (545,7.83) (552,7.66) (558,8.34) (565,9.18) (570,9.35) (575,8.68) (580,7.66) (585,6.99) (590,8.00) (596,7.32) (602,7.32) (608,7.83) (614,7.32) (620,6.99) (625,6.48) (630,6.99) (635,5.64) (640,6.82) (646,7.32) (652,8.17) (658,8.34) (664,8.68) (670,8.51) (676,8.34) (682,8.51) (690,8.68) (695,9.18) (700,9.52) (705,9.86) (710,9.52) (715,10.19) (720,10.70) (725,11.71) (730,10.70) (735,10.03) (740,10.70) (743,13.40) (746,17.45) (750,17.79) (755,15.09) (760,16.61) (765,15.43) (770,16.44) (775,14.41) (780,11.71) (784,9.52) (787,12.39) (792,18.13) (797,17.45) (805,17.28) (810,16.95) (815,17.11) (820,18.30) (828,18.46) (835,18.80) (842,19.21) (848,18.80) (855,18.46) (860,18.30) (865,16.61) (870,17.45) (875,17.96) (880,18.30) (885,17.96) (892,17.11) (898,17.79) (903,18.30) (910,18.13) (918,17.28) (925,17.79) (930,18.30) (935,20.32) (940,19.81) (945,19.81) (950,19.98) (955,19.81) (960,20.15) (965,19.81) (970,18.80) (975,18.13) (978,8.34) (981,-1.79) (985,-5.33) (990,-3.31) (995,-0.10) (1000,2.94) (1005,3.95) (1010,4.62) (1015,10.36) (1020,16.78) (1025,17.28) (1030,17.96) (1035,18.13) (1040,17.62) (1045,17.62) (1050,17.86) (1058,17.96) (1065,17.96) (1072,17.28) (1078,17.79) (1085,17.96) (1092,18.13) (1100,17.79) (1108,18.06) (1115,18.63) (1120,18.30) (1125,17.79) (1130,17.11) (1135,16.10) (1140,15.26) (1145,16.27) (1152,16.10) (1158,15.93) (1165,15.09) (1170,15.09) (1175,14.08) (1180,12.39) (1185,12.73) (1190,13.57) (1195,12.73) (1200,13.06) (1205,13.23) (1210,12.73) (1215,12.39) (1220,11.38) (1226,10.36) (1232,10.03) (1238,9.35) (1243,9.01) (1248,8.68) (1254,8.68) (1258,6.31) (1264,4.29) (1268,1.59) (1272,-3.48) (1276,-5.16) (1280,-5.84) (1286,-6.35) (1292,-6.68) (1298,-6.85) (1305,-7.19) (1310,-8.54) (1315,-9.89) (1320,-11.24) (1325,-10.23) (1328,-10.57) (1332,-8.20) (1336,-11.41) (1340,-13.60) (1344,-15.97) (1348,-14.62) (1352,-12.25) (1356,-12.25) (1360,-15.29) (1365,-15.29) (1370,-14.95) (1375,-14.28) (1380,-13.27) (1384,-14.28) (1388,-13.60) (1392,-13.27) (1397,-14.28) (1402,-14.62) (1408,-13.94) (1415,-13.77) (1420,-13.60) (1425,-13.94) (1430,-14.28) (1435,-14.62) (1440,-16.47) (1444,-15.63) (1450,-15.12) (1455,-14.28) (1460,-13.77) (1466,-13.27) (1472,-12.59) (1478,-11.92) (1484,-10.57) (1488,-11.07)};
\zeroline
\end{axis}
\node[anchor=base east, font=\fontsize{10}{12}\selectfont, inner sep=0pt] at (610.08pt,-608.0pt) {2001-Jun-02};

% ---------------- Panel 6: bow shock
\begin{axis}[sw, at={(52.63pt,-603.39pt)},
  ymin=-5.71, ymax=15.23, ytick={-5,0,5,10,15}, yticklabels={−5,0,5,10,15},
  ytick pos=right, yticklabel pos=right, ylabel near ticks, ylabel={BowS [RE]},
]
\bands
\addplot[thn, smx] coordinates {(72,10.18) (75,10.42) (80,10.10) (85,10.26) (92,10.13) (100,10.10) (108,10.07) (115,10.10) (118,9.94) (122,10.23) (127,10.10) (132,9.87) (137,9.98) (142,9.31) (148,9.55) (158,9.60) (168,9.60) (180,9.60) (188,9.71) (193,9.63) (198,9.44) (203,9.31) (210,9.63) (220,9.60) (230,9.60) (238,9.71) (245,9.82) (252,9.94) (258,9.87) (265,9.94) (270,9.79) (278,9.87) (285,9.76) (292,9.55) (298,9.63) (305,9.71) (315,9.71) (322,9.87) (328,10.13) (335,10.02) (342,10.10) (350,10.23) (356,10.26) (362,10.18) (370,10.29) (378,10.34) (385,10.26) (395,10.26) (405,10.29) (415,10.26) (422,10.13) (430,9.98) (435,9.71) (440,9.66) (448,9.79) (455,9.82) (462,9.79) (468,9.63) (475,9.55) (483,9.63) (490,9.63) (497,9.55) (503,9.39) (508,9.47) (513,9.60) (518,9.47) (524,9.87) (530,9.79) (538,9.71) (545,9.63) (550,9.55) (558,9.55) (565,9.63) (570,9.71) (576,9.60) (582,9.44) (590,9.50) (597,9.55) (603,9.44) (610,9.55) (617,9.47) (622,9.39) (630,9.34) (640,9.31) (650,9.28) (660,9.23) (670,9.23) (680,9.23) (690,9.19) (698,9.23) (705,9.23) (710,9.31) (716,9.19) (723,9.08) (730,9.31) (736,9.63) (742,10.26) (746,10.66) (750,10.34) (755,10.10) (760,9.87) (766,9.63) (770,10.34) (775,10.42) (780,10.23) (785,10.13) (790,10.42) (795,10.23) (800,10.07) (805,10.18) (810,10.18) (815,10.26) (820,10.58) (825,11.21) (830,11.44) (835,11.29) (840,11.44) (845,11.65) (850,11.76) (855,11.44) (860,10.73) (865,10.42) (870,10.50) (875,10.58) (880,10.39) (888,10.26) (895,10.34) (902,10.34) (910,10.18) (918,10.34) (925,10.73) (930,11.21) (935,11.92) (940,12.31) (945,12.23) (950,12.08) (955,12.23) (960,13.18) (965,13.42) (970,12.94) (975,12.79) (978,12.00) (982,10.58) (986,10.02) (990,10.34) (995,10.97) (1000,11.21) (1005,11.76) (1010,12.39) (1015,12.71) (1020,12.47) (1025,12.23) (1030,12.00) (1035,11.92) (1040,11.92) (1045,12.08) (1050,12.15) (1055,12.15) (1060,12.23) (1065,12.31) (1070,12.23) (1075,12.15) (1080,12.19) (1088,12.15) (1095,12.15) (1102,12.15) (1110,12.23) (1115,12.47) (1120,12.79) (1125,13.10) (1130,13.02) (1135,12.82) (1140,12.79) (1145,12.71) (1150,12.55) (1155,12.63) (1160,12.71) (1165,12.63) (1170,12.31) (1175,12.00) (1180,11.84) (1185,11.87) (1190,11.76) (1195,11.60) (1200,11.44) (1205,11.55) (1210,11.68) (1215,11.76) (1220,11.60) (1225,11.44) (1230,11.37) (1235,11.29) (1240,11.29) (1245,11.21) (1250,11.21) (1255,11.13) (1260,11.05) (1265,11.13) (1270,11.84) (1275,12.39) (1280,12.55) (1285,12.55) (1290,12.60) (1295,12.55) (1300,12.60) (1305,12.55) (1310,12.47) (1315,12.39) (1320,12.00) (1325,11.76) (1330,11.60) (1333,10.89) (1337,10.10) (1342,9.79) (1346,9.47) (1350,9.55) (1355,9.31) (1360,9.00) (1365,9.47) (1370,9.55) (1375,9.79) (1380,10.58) (1383,10.92) (1388,10.66) (1393,10.34) (1400,10.34) (1408,10.34) (1415,10.34) (1420,10.34) (1425,10.42) (1430,10.81) (1435,10.89) (1440,10.81) (1445,10.89) (1450,10.97) (1455,11.21) (1460,11.44) (1465,11.60) (1470,11.81) (1475,11.92) (1480,12.08) (1485,12.23) (1488,12.34)};
\addplot[thn, smz] coordinates {(72,4.89) (78,4.70) (84,4.81) (90,4.81) (97,4.70) (105,4.58) (110,4.55) (115,4.66) (120,4.81) (125,4.61) (130,4.97) (135,5.05) (140,5.13) (145,5.05) (155,5.02) (165,5.05) (175,5.02) (185,5.05) (195,4.97) (200,5.05) (205,5.18) (210,5.21) (215,5.29) (220,5.08) (228,4.97) (235,4.89) (240,5.02) (250,5.05) (260,5.05) (270,5.05) (280,5.08) (285,4.97) (292,4.92) (300,5.02) (310,5.05) (320,5.02) (330,5.05) (340,5.02) (350,5.05) (360,5.13) (370,5.18) (380,5.08) (390,4.97) (400,4.92) (410,4.89) (420,4.86) (430,4.89) (437,4.70) (445,4.74) (455,4.81) (465,4.74) (475,4.66) (485,4.61) (495,4.45) (502,4.26) (508,4.10) (514,4.18) (520,4.34) (528,4.42) (535,4.34) (542,4.26) (550,4.26) (558,4.34) (565,4.50) (570,4.42) (578,4.18) (585,4.10) (592,4.03) (600,4.03) (608,3.98) (615,3.95) (622,3.91) (630,3.82) (638,3.71) (645,3.63) (652,3.66) (660,3.60) (670,3.60) (680,3.63) (690,3.60) (698,3.50) (705,3.47) (712,3.60) (720,3.76) (728,3.82) (735,3.91) (740,3.98) (745,4.14) (750,4.07) (756,4.03) (762,3.98) (768,3.95) (775,4.03) (782,4.03) (788,4.14) (795,4.18) (800,4.14) (806,4.18) (812,4.23) (818,4.42) (825,4.61) (830,4.55) (835,4.45) (840,4.34) (845,4.29) (850,4.29) (858,4.26) (865,4.10) (870,4.07) (880,4.03) (890,4.03) (897,4.10) (905,4.03) (912,4.03) (920,4.10) (928,4.18) (935,4.50) (940,4.45) (945,4.42) (950,4.50) (955,4.55) (960,4.42) (965,4.61) (970,4.70) (975,4.86) (980,5.18) (985,5.52) (990,5.65) (995,5.37) (1000,5.05) (1005,5.05) (1010,5.02) (1015,4.10) (1018,3.16) (1022,3.31) (1028,3.55) (1033,3.95) (1038,4.26) (1045,4.34) (1050,4.23) (1055,4.14) (1062,4.26) (1068,4.18) (1075,4.07) (1082,3.98) (1090,3.91) (1098,3.91) (1105,3.87) (1112,3.87) (1118,3.98) (1125,4.14) (1130,4.29) (1135,4.18) (1140,3.87) (1145,3.82) (1150,3.82) (1155,3.79) (1160,3.76) (1165,3.91) (1170,3.79) (1175,3.76) (1180,3.66) (1185,3.71) (1190,3.63) (1195,3.60) (1200,3.50) (1208,3.39) (1215,3.31) (1222,3.31) (1230,3.31) (1238,3.28) (1245,3.31) (1250,3.24) (1256,3.08) (1262,3.47) (1268,3.79) (1275,3.98) (1282,4.03) (1290,4.07) (1296,4.18) (1302,4.10) (1308,4.03) (1315,3.82) (1320,3.71) (1325,3.79) (1330,3.60) (1335,3.63) (1340,3.47) (1345,3.16) (1350,3.24) (1355,3.39) (1360,3.24) (1365,3.13) (1370,3.03) (1376,3.19) (1382,3.28) (1388,3.13) (1395,3.08) (1402,3.13) (1410,3.08) (1418,3.08) (1425,3.03) (1430,3.16) (1435,3.47) (1440,3.60) (1445,3.50) (1450,3.39) (1455,3.31) (1462,3.28) (1470,3.31) (1478,3.39) (1484,3.47) (1488,3.47)};
\addplot[thn, smy] coordinates {(72,0.66) (78,0.60) (85,0.51) (92,0.44) (100,0.44) (108,0.44) (115,0.39) (120,0.35) (125,0.44) (130,0.39) (137,0.24) (142,0.19) (148,0.24) (155,0.28) (165,0.32) (175,0.35) (185,0.39) (195,0.44) (200,0.47) (205,0.39) (210,0.16) (215,0.28) (220,0.39) (230,0.47) (240,0.60) (250,0.63) (260,0.66) (270,0.69) (280,0.71) (290,0.71) (300,0.71) (310,0.76) (318,0.82) (322,0.60) (330,0.39) (340,0.32) (350,0.28) (360,0.28) (370,0.35) (380,0.39) (390,0.39) (400,0.44) (410,0.47) (420,0.51) (430,0.51) (440,0.47) (450,0.39) (460,0.44) (470,0.47) (480,0.51) (490,0.51) (500,0.51) (510,0.60) (518,0.55) (525,0.51) (530,0.44) (540,0.39) (550,0.35) (560,0.44) (570,0.55) (580,0.66) (590,0.76) (600,0.76) (610,0.76) (620,0.82) (630,0.82) (640,0.87) (650,0.87) (660,0.76) (670,0.66) (680,0.63) (690,0.63) (700,0.66) (705,0.76) (710,0.71) (716,0.47) (722,0.32) (728,0.16) (735,0.24) (742,0.35) (750,0.39) (760,0.39) (770,0.39) (778,0.19) (785,-0.16) (790,-0.47) (798,-0.51) (805,-0.39) (812,-0.16) (818,-0.16) (825,0.00) (832,0.16) (838,-0.08) (845,-0.39) (850,-0.55) (855,-0.39) (860,-0.16) (866,-0.08) (872,-0.16) (880,-0.24) (888,-0.24) (895,-0.08) (900,0.24) (906,0.16) (912,0.00) (918,-0.08) (925,-0.08) (930,-0.16) (935,-0.79) (940,-1.34) (945,-1.18) (950,-1.10) (955,-1.18) (960,-1.34) (965,-1.34) (970,-0.39) (975,-0.55) (980,-0.63) (985,-0.79) (990,-1.10) (995,-1.10) (1000,-0.71) (1005,-0.55) (1010,-0.47) (1015,0.00) (1018,0.79) (1022,1.26) (1026,0.95) (1030,0.16) (1035,-0.39) (1040,-0.47) (1045,-0.47) (1050,-0.55) (1055,-0.66) (1060,-0.76) (1065,-0.79) (1070,-0.79) (1075,-0.76) (1080,-0.76) (1088,-0.71) (1095,-0.63) (1100,-0.60) (1105,-0.66) (1110,-0.76) (1115,-0.82) (1120,-0.92) (1125,-0.98) (1130,-1.03) (1135,-0.95) (1140,-1.03) (1145,-0.95) (1150,-0.92) (1155,-0.95) (1160,-0.87) (1165,-0.79) (1170,-0.79) (1175,-0.92) (1180,-1.10) (1185,-1.03) (1190,-0.79) (1195,-0.92) (1200,-0.98) (1205,-1.10) (1210,-1.14) (1215,-1.18) (1220,-1.23) (1225,-1.26) (1230,-1.34) (1235,-1.29) (1240,-1.34) (1245,-1.50) (1250,-1.58) (1255,-1.55) (1260,-1.58) (1265,-1.61) (1270,-1.74) (1275,-2.13) (1280,-2.21) (1285,-2.24) (1290,-2.05) (1295,-1.97) (1300,-1.89) (1305,-1.93) (1310,-2.02) (1315,-2.13) (1320,-2.37) (1325,-2.68) (1330,-3.00) (1335,-3.08) (1340,-3.16) (1345,-3.39) (1350,-3.71) (1355,-3.91) (1360,-3.71) (1365,-3.47) (1370,-3.28) (1375,-3.08) (1380,-2.92) (1385,-2.92) (1390,-3.08) (1395,-3.16) (1400,-3.28) (1405,-3.39) (1410,-3.31) (1415,-3.35) (1420,-3.47) (1425,-3.60) (1430,-3.00) (1435,-2.84) (1440,-2.84) (1445,-2.76) (1450,-2.68) (1455,-2.65) (1460,-2.68) (1470,-2.72) (1480,-2.76) (1488,-2.76)};
\zeroline
\end{axis}

% ---------------- Panel 7: SYM/H
\begin{axis}[sw, at={(52.63pt,-715.03pt)},
  ymin=-5.08, ymax=53.2, ytick={0,20,40}, yticklabels={0,20,40}, ytick pos=left,
  ylabel={SYM/H [nT]},
  xtick align=outside,
  xticklabels={{19:00\\2001-0601},{20:00\\2001-0601},{21:00\\2001-0601},{22:00\\2001-0601},{23:00\\2001-0601},{00:00\\2001-0602},{01:00\\2001-0602}},
  xticklabel style={align=center, font=\fontsize{10}{11.2}\selectfont},
  xlabel={UT},
]
\bands
\addplot[blk] coordinates {(72,25.5) (78,25.1) (85,21.3) (90,20.0) (95,18.7) (100,17.6) (103,17.0) (108,18.1) (115,18.1) (120,19.4) (127,20.9) (132,23.3) (137,25.1) (145,25.5) (150,26.4) (155,26.6) (160,27.5) (165,26.4) (170,27.0) (178,27.7) (183,28.3) (195,28.3) (202,29.2) (210,29.2) (215,28.1) (222,27.3) (228,26.4) (233,25.3) (240,25.1) (268,25.1) (275,24.0) (280,23.1) (295,23.0) (310,23.0) (315,23.3) (320,24.2) (325,25.1) (330,24.2) (338,24.2) (343,23.3) (348,22.0) (352,22.4) (356,23.3) (362,23.3) (370,25.1) (378,23.3) (385,24.2) (395,24.2) (400,23.1) (405,24.2) (410,25.3) (420,25.3) (428,25.9) (433,26.4) (437,27.3) (442,25.1) (447,22.9) (452,22.0) (457,23.1) (467,23.1) (475,25.1) (480,27.3) (485,28.1) (493,29.2) (500,29.2) (512,29.4) (518,31.2) (522,32.9) (526,32.1) (530,36.5) (535,38.4) (538,36.9) (542,34.3) (546,32.9) (550,31.2) (553,30.1) (558,31.4) (562,32.3) (567,32.9) (572,33.4) (578,34.3) (590,34.3) (597,35.1) (603,35.6) (608,36.5) (613,35.6) (617,34.3) (621,33.2) (626,34.7) (630,37.8) (634,40.4) (640,43.5) (645,45.4) (650,47.2) (655,46.1) (660,44.8) (665,43.0) (670,40.4) (678,40.2) (690,40.2) (695,40.6) (700,42.6) (703,43.5) (707,42.1) (712,43.7) (715,44.1) (720,44.8) (724,47.0) (729,48.3) (734,47.4) (738,46.3) (742,41.3) (746,36.0) (750,31.2) (755,26.4) (758,22.4) (762,20.9) (767,23.7) (770,25.5) (775,27.3) (780,33.2) (785,32.1) (790,31.0) (797,31.0) (803,32.1) (808,32.7) (815,33.4) (820,34.3) (825,35.1) (828,37.3) (832,40.4) (836,39.1) (840,36.0) (845,31.2) (850,25.9) (854,22.9) (858,23.7) (863,25.5) (868,22.4) (875,18.9) (880,22.0) (885,28.6) (888,33.8) (892,37.3) (898,38.9) (905,40.4) (910,39.3) (915,40.4) (920,41.5) (925,41.5) (930,40.0) (935,36.9) (940,38.4) (945,33.8) (950,24.2) (955,16.3) (958,15.0) (962,17.4) (966,14.1) (970,10.2) (975,8.9) (980,10.2) (985,11.9) (990,12.4) (994,14.5) (998,21.3) (1002,20.0) (1008,22.4) (1013,24.2) (1018,25.3) (1023,25.3) (1028,24.2) (1033,21.3) (1040,20.2) (1046,19.8) (1050,23.3) (1053,23.3) (1057,21.1) (1060,18.7) (1065,20.7) (1070,22.4) (1075,21.1) (1080,22.2) (1085,22.2) (1090,23.1) (1095,23.5) (1100,22.0) (1105,20.9) (1110,22.9) (1118,24.4) (1125,22.7) (1130,21.1) (1135,22.2) (1140,20.7) (1145,20.0) (1150,20.0) (1155,21.1) (1160,21.3) (1165,22.4) (1170,22.4) (1175,23.1) (1180,23.3) (1210,23.3) (1213,22.0) (1216,20.9) (1220,22.9) (1223,25.9) (1228,27.3) (1232,25.9) (1237,25.1) (1240,27.3) (1245,28.3) (1250,27.3) (1258,27.0) (1263,27.9) (1268,29.2) (1272,28.1) (1278,28.3) (1282,20.7) (1287,14.1) (1292,13.0) (1298,13.9) (1305,14.3) (1312,14.3) (1318,15.4) (1325,17.2) (1330,18.5) (1335,18.9) (1340,19.8) (1345,21.6) (1350,25.1) (1355,28.1) (1360,28.3) (1370,28.3) (1378,28.1) (1385,25.7) (1390,23.3) (1395,21.1) (1400,20.9) (1405,22.2) (1412,22.2) (1418,23.3) (1430,23.3) (1435,22.0) (1440,20.7) (1445,19.4) (1450,18.1) (1455,16.7) (1460,15.9) (1465,13.7) (1470,11.9) (1475,10.6) (1480,9.3) (1485,7.3) (1488,7.1)};
\zeroline
\end{axis}
\node[anchor=base east, font=\fontsize{10}{12}\selectfont, inner sep=0pt] at (610.08pt,-719.64pt) {2001-Jun-02};
\end{tikzpicture}
\end{document}
